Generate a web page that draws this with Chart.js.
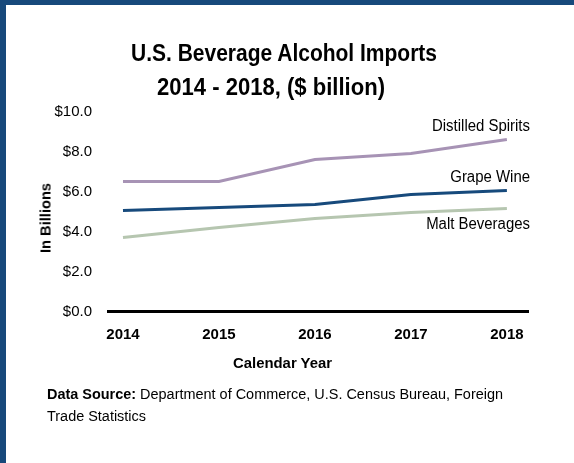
<!DOCTYPE html>
<html>
<head>
<meta charset="utf-8">
<script src="https://cdn.jsdelivr.net/npm/chart.js@4.4.0/dist/chart.umd.min.js"></script>
<style>
  html, body { margin: 0; padding: 0; background: #ffffff; }
  #wrap { position: relative; width: 574px; height: 463px; overflow: hidden; background: #fff; }
  #bt { position: absolute; left: 0; top: 0; width: 574px; height: 5px; background: #17497b; }
  #bl { position: absolute; left: 0; top: 0; width: 6px; height: 463px; background: #17497b; }
  canvas { position: absolute; left: 0; top: 0; }
  .txt { position: absolute; white-space: nowrap; color: #000;
         font-family: "Liberation Sans", Arial, sans-serif; line-height: 1; transform-origin: 0 0; }
  .t1 { font-weight: bold; font-size: 23px; left: 131px; top: 42px; }
  .t2 { font-weight: bold; font-size: 23px; left: 157px; top: 76px; }
  .xt { font-weight: bold; font-size: 15px; left: 233px; top: 355px; }
  .src { font-size: 14px; left: 47px; top: 383px; line-height: 22.4px; }
  .yt { font-weight: bold; font-size: 15px; left: 45px; top: 218px; transform-origin: 50% 50%; }
</style>
</head>
<body>
<div id="wrap">
  <canvas id="c" width="574" height="463"></canvas>
  <div id="bt"></div>
  <div id="bl"></div>
  <div class="txt t1" data-w="306">U.S. Beverage Alcohol Imports</div>
  <div class="txt t2" data-w="228">2014 - 2018, ($ billion)</div>
  <div class="txt xt" data-w="99">Calendar Year</div>
  <div class="txt src" data-w="456"><b>Data Source:</b> Department of Commerce, U.S. Census Bureau, Foreign<br>Trade Statistics</div>
  <div class="txt yt" id="yt" data-w="70">In Billions</div>
</div>
<script>
const years = [2014, 2015, 2016, 2017, 2018];
const distilledSpirits = [6.5, 6.5, 7.6, 7.9, 8.6];
const grapeWine = [5.05, 5.2, 5.35, 5.85, 6.05];
const maltBeverages = [3.7, 4.2, 4.65, 4.95, 5.15];
const seriesNames = ["Distilled Spirits", "Grape Wine", "Malt Beverages"];
const yTicks = [0, 2, 4, 6, 8, 10];

const TICKFONT = '"Liberation Sans", Arial, sans-serif';
const LABFONT = '"Liberation Sans", Arial, sans-serif';

// condense HTML texts to the reference widths
document.querySelectorAll('[data-w]').forEach(el => {
  const w = el.getBoundingClientRect().width;
  const k = Number(el.dataset.w) / w;
  if (el.id === 'yt') {
    el.style.transform = 'translate(-50%, -50%) rotate(-90deg) scaleX(' + k + ')';
  } else {
    el.style.transform = 'scaleX(' + k + ')';
  }
});

function pts(vals) { return years.map((yr, i) => ({ x: yr, y: vals[i] })); }

const seriesLabelPlugin = {
  id: 'seriesLabels',
  afterDatasetsDraw(chart, args, opts) {
    const ctx = chart.ctx;
    ctx.save();
    ctx.font = '16px ' + LABFONT;
    const k = opts.refWidth / ctx.measureText(seriesNames[0]).width;
    ctx.fillStyle = '#000';
    ctx.textAlign = 'right';
    ctx.textBaseline = 'middle';
    chart.data.datasets.forEach((ds, i) => {
      const meta = chart.getDatasetMeta(i);
      const last = meta.data[meta.data.length - 1];
      ctx.save();
      ctx.translate(opts.x, last.y + opts.offsets[i]);
      ctx.scale(k, 1);
      ctx.fillText(ds.label, 0, 0);
      ctx.restore();
    });
    ctx.restore();
  }
};

new Chart(document.getElementById('c'), {
  type: 'line',
  data: {
    datasets: [
      { label: seriesNames[0], data: pts(distilledSpirits), borderColor: '#a793b5', borderWidth: 3 },
      { label: seriesNames[1], data: pts(grapeWine), borderColor: '#174a7c', borderWidth: 3 },
      { label: seriesNames[2], data: pts(maltBeverages), borderColor: '#b6c6b0', borderWidth: 3 }
    ]
  },
  options: {
    responsive: false,
    animation: false,
    events: [],
    elements: { point: { radius: 0 }, line: { tension: 0 } },
    layout: { padding: { left: 36, right: 46, top: 111.5, bottom: 0 } },
    plugins: {
      legend: { display: false },
      tooltip: { enabled: false },
      title: { display: false },
      seriesLabels: { x: 530, offsets: [-12.5, -13, 16.5], refWidth: 98 }
    },
    scales: {
      x: {
        type: 'linear',
        min: 2013.844,
        max: 2018.22,
        afterBuildTicks: s => { s.ticks = years.map(v => ({ value: v })); },
        afterFit: s => { s.height = 151.5; },
        grid: { display: false, drawTicks: false },
        border: { display: true, color: '#000', width: 3 },
        ticks: {
          color: '#000', padding: 14, maxRotation: 0, autoSkip: false,
          font: { family: TICKFONT, size: 15, weight: 'bold' },
          callback: v => String(v)
        }
      },
      y: {
        min: 0,
        max: 10,
        afterBuildTicks: s => { s.ticks = yTicks.map(v => ({ value: v })); },
        afterFit: s => { s.width = 72; },
        grid: { display: false, drawTicks: false },
        border: { display: false },
        ticks: {
          color: '#000', padding: 16,
          font: { family: TICKFONT, size: 15 },
          callback: v => '$' + Number(v).toFixed(1)
        }
      }
    }
  },
  plugins: [seriesLabelPlugin]
});
</script>
</body>
</html>
